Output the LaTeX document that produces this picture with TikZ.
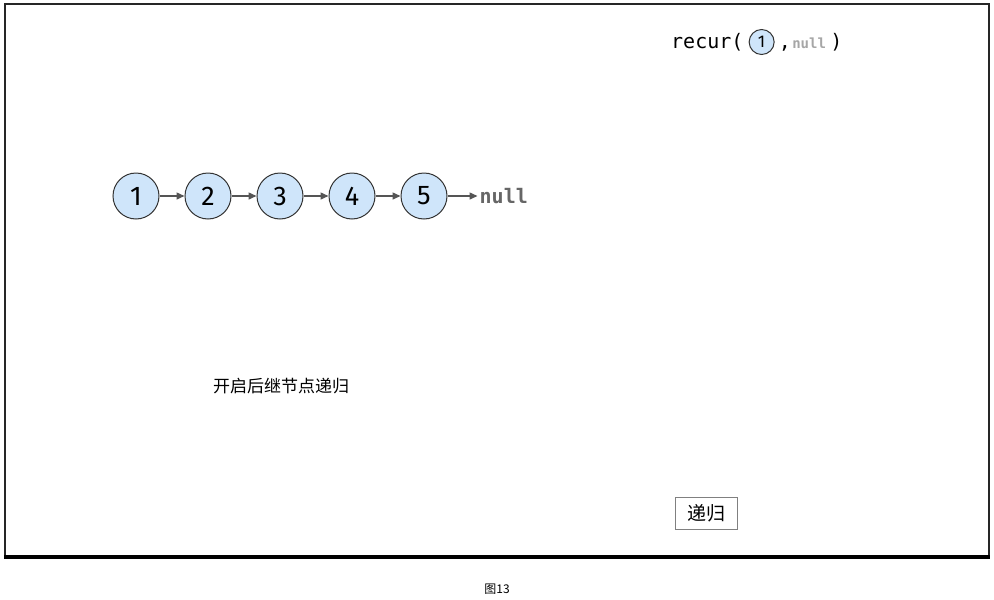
\documentclass[tikz,border=0pt]{standalone}
\usepackage{fontspec}
\setmainfont{Fira Sans}
\setmonofont{DejaVu Sans Mono}
\newfontfamily\cjk{Noto Sans CJK SC}
\usetikzlibrary{positioning, arrows.meta}
\definecolor{nodefill}{HTML}{CFE5FA}
\definecolor{nodeline}{HTML}{333333}
\definecolor{linkgray}{HTML}{555555}
\definecolor{nullgray}{HTML}{666666}

\begin{document}
\begin{tikzpicture}[x=1pt, y=-1pt, >={Triangle[length=8pt,width=7pt]}]
  \tikzset{
    listnode/.style={circle, draw=nodeline, fill=nodefill, line width=1pt,
      minimum size=46pt, inner sep=0pt, font=\fontsize{27}{27}\selectfont},
    smallnode/.style={circle, draw=nodeline, fill=nodefill, line width=1pt,
      minimum size=25pt, inner sep=0pt, font=\fontsize{17}{17}\selectfont},
    link/.style={->, draw=linkgray, line width=1.5pt},
  }
  \useasboundingbox (0,0) rectangle (994,600);

  % --- frame ---
  \draw[line width=2pt, draw=black!85] (5,4) rectangle (989,556);
  \draw[line width=4pt] (4,557) -- (990,557);

  % --- list 1 -> 5 -> null ---
  \node[listnode] (n1) at (136,196) {1};
  \foreach \i [remember=\i as \j (initially 1)] in {2,...,5} {
    \node[listnode, right=25pt of n\j] (n\i) {\i};
    \draw[link] (n\j) -- (n\i);
  }
  \node[font=\ttfamily\bfseries\fontsize{20}{20}\selectfont, text=nullgray,
    right=30pt of n5, inner sep=2pt] (null) {null};
  \draw[link] (n5) -- (null);

  % --- call ---
  \node[font=\ttfamily\fontsize{20}{20}\selectfont, anchor=west, inner sep=0pt]
    (call) at (671,42) {recur(};
  \node[smallnode, right=5pt of call] (arg) {1};
  \node[font=\ttfamily\fontsize{20}{20}\selectfont, anchor=base west, inner sep=0pt]
    (comma) at ([xshift=4pt]arg.east |- call.base) {,};
  \node[font=\ttfamily\bfseries\fontsize{14}{14}\selectfont, text=black!35,
    anchor=base west, inner sep=0pt] (argnull) at ([xshift=1pt]comma.base east) {null};
  \node[font=\ttfamily\fontsize{20}{20}\selectfont, anchor=base west, inner sep=0pt]
    (close) at ([xshift=4pt]argnull.base east) {)};

  % --- caption text ---
  \node[font=\cjk\fontsize{17}{17}\selectfont] (desc) at (281,386) {开启后继节点递归};
  \node[draw=black!50, line width=0.8pt, font=\cjk\fontsize{19}{19}\selectfont,
    minimum width=62pt, minimum height=32pt, inner sep=0pt] (btn) at (706,513) {递归};
  \node[font=\cjk\fontsize{12}{12}\selectfont] (fig) at (497,589) {图13};
\end{tikzpicture}
\end{document}
